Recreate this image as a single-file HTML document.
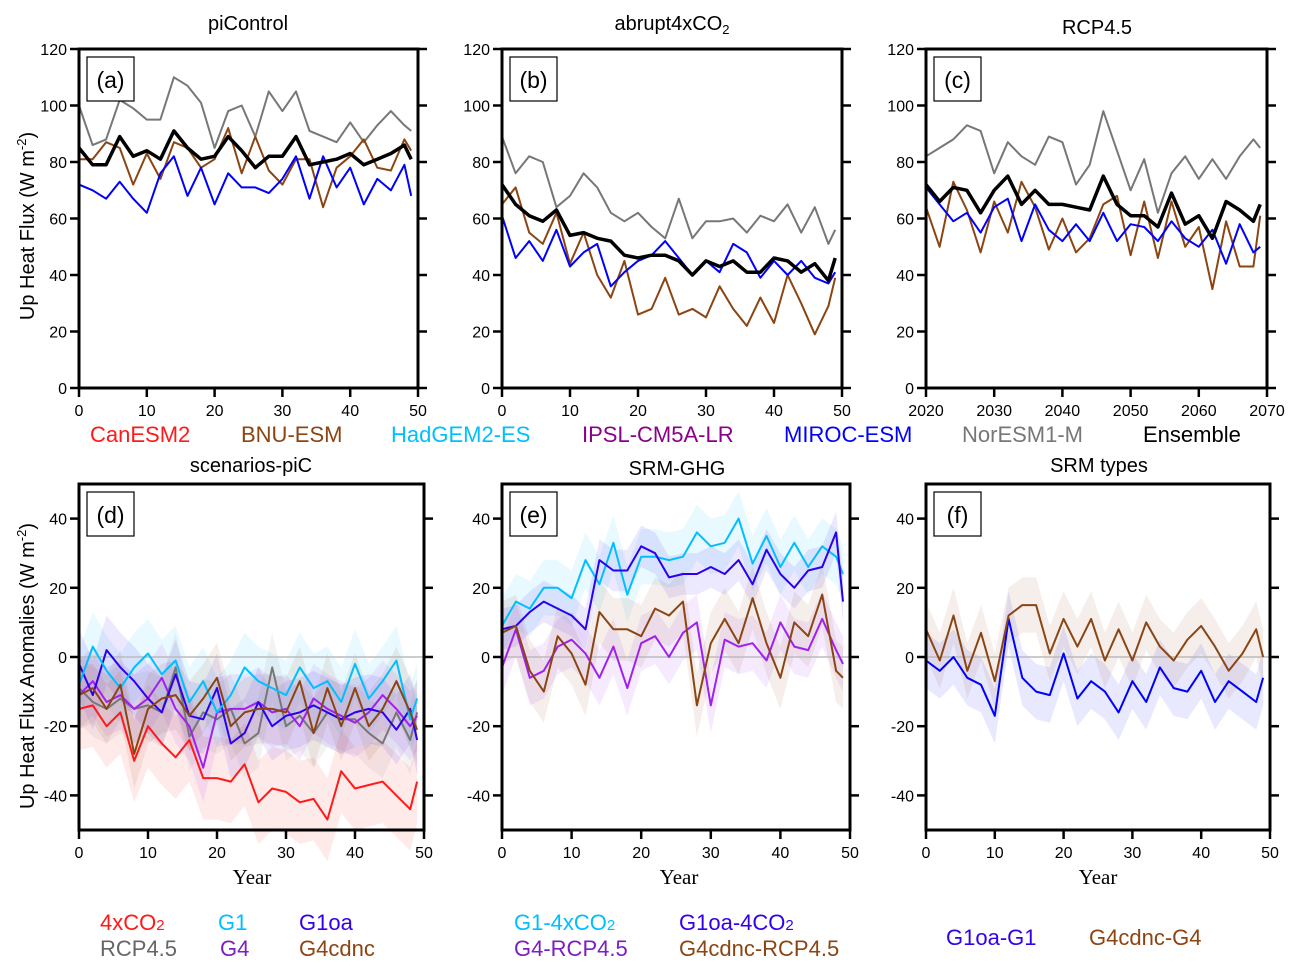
<!DOCTYPE html>
<html><head><meta charset="utf-8"><style>
html,body{margin:0;padding:0;background:#fff}
svg{display:block;font-family:"Liberation Sans",sans-serif}
.tk{font-size:16px;fill:#000}
.ttl{font-size:20px;fill:#000}
.lg{font-size:22px}
.yr{font-family:"Liberation Serif",serif;font-size:21px}
</style></head><body>
<svg id="chart" width="1293" height="972" viewBox="0 0 1293 972">
<g id="g"></g>
<text class="ttl" x="248" y="30" text-anchor="middle">piControl</text>
<text class="ttl" x="672" y="30" text-anchor="middle">abrupt4xCO<tspan font-size="13" dy="4">2</tspan></text>
<text class="ttl" x="1097" y="34" text-anchor="middle">RCP4.5</text>
<text class="ttl" x="251" y="472" text-anchor="middle">scenarios-piC</text>
<text class="ttl" x="677" y="475" text-anchor="middle">SRM-GHG</text>
<text class="ttl" x="1099" y="472" text-anchor="middle">SRM types</text>
<text class="ttl" transform="translate(34,226) rotate(-90)" text-anchor="middle">Up Heat Flux (W m<tspan font-size="13" dy="-8">-2</tspan><tspan dy="8">)</tspan></text>
<text class="ttl" transform="translate(34,666) rotate(-90)" text-anchor="middle">Up Heat Flux Anomalies (W m<tspan font-size="13" dy="-8">-2</tspan><tspan dy="8">)</tspan></text>
<text class="yr" x="252" y="884" text-anchor="middle">Year</text>
<text class="yr" x="679" y="884" text-anchor="middle">Year</text>
<text class="yr" x="1098" y="884" text-anchor="middle">Year</text>
<g class="lg">
<text x="90" y="442" fill="#ff1a1a">CanESM2</text>
<text x="241" y="442" fill="#8b4513">BNU-ESM</text>
<text x="391" y="442" fill="#00bfff">HadGEM2-ES</text>
<text x="582" y="442" fill="#8b008b">IPSL-CM5A-LR</text>
<text x="784" y="442" fill="#0000ff">MIROC-ESM</text>
<text x="962" y="442" fill="#777">NorESM1-M</text>
<text x="1143" y="442" fill="#000">Ensemble</text>
</g>
<g class="lg">
<text x="100" y="930" fill="#ff1a1a">4xCO<tspan font-size="15">2</tspan></text>
<text x="218" y="930" fill="#00bfff">G1</text>
<text x="299" y="930" fill="#3300ee">G1oa</text>
<text x="100" y="956" fill="#666">RCP4.5</text>
<text x="220" y="956" fill="#7a1fc0">G4</text>
<text x="299" y="956" fill="#8b4513">G4cdnc</text>
<text x="514" y="930" fill="#00bfff">G1-4xCO<tspan font-size="15">2</tspan></text>
<text x="679" y="930" fill="#3300ee">G1oa-4CO<tspan font-size="15">2</tspan></text>
<text x="514" y="956" fill="#7a1fc0">G4-RCP4.5</text>
<text x="679" y="956" fill="#8b4513">G4cdnc-RCP4.5</text>
<text x="946" y="945" fill="#3300ee">G1oa-G1</text>
<text x="1089" y="945" fill="#8b4513">G4cdnc-G4</text>
</g>
</svg>
<script>
const years = [0,2,4,6,8,10,12,14,16,18,20,22,24,26,28,30,32,34,36,38,40,42,44,46,48,49];
const topTicks = [0,20,40,60,80,100,120];
const botTicks = [-40,-20,0,20,40];
// panel a piControl
const aGray = [100,86,88,102,99,95,95,110,107,101,85,98,100,89,105,98,105,91,89,87,94,87,93,98,93,91];
const aBrown = [81,81,87,85,72,83,74,87,85,78,81,92,76,89,77,72,81,81,64,78,82,88,78,77,88,84];
const aBlue = [72,70,67,73,67,62,76,82,68,78,65,76,71,71,69,74,82,67,82,71,78,65,74,70,79,68];
const aBlack = [85,79,79,89,82,84,81,91,85,81,82,89,84,78,82,82,89,79,80,81,83,79,81,83,86,81];
// panel b abrupt4xCO2
const bGray = [89,76,82,80,64,68,76,71,62,59,62,57,53,67,53,59,59,60,55,61,59,65,55,64,51,56];
const bBrown = [65,71,55,51,62,44,55,40,32,45,26,28,39,26,28,25,36,28,22,32,23,40,30,19,29,39];
const bBlue = [61,46,52,45,56,43,48,51,36,41,45,47,52,46,40,45,41,51,48,39,45,40,45,39,37,41];
const bBlack = [72,65,61,59,63,54,55,53,52,47,46,47,47,45,40,45,43,45,41,41,46,45,41,44,38,46];
// panel c RCP4.5
const cGray = [82,85,88,93,91,76,87,82,79,89,87,72,79,98,84,70,81,62,76,82,74,81,74,82,88,85];
const cBrown = [64,50,73,63,48,66,55,73,64,49,60,48,53,65,68,47,66,46,66,50,57,35,59,43,43,61];
const cBlue = [71,65,59,62,55,64,67,52,65,56,52,58,52,62,52,58,57,52,59,53,50,56,44,58,48,50];
const cBlack = [72,66,71,70,62,70,75,65,70,65,65,64,63,75,65,61,61,57,69,58,61,53,66,63,59,65];
// panel d scenarios-piC
const d4x = [-15,-14,-20,-16,-30,-20,-25,-29,-24,-35,-35,-36,-31,-42,-38,-39,-42,-41,-47,-33,-38,-37,-36,-40,-44,-36];
const dG1 = [-8,3,-4,-9,-3,1,-5,-1,-13,-7,-16,-11,-3,-7,-9,-11,-3,-9,-7,-13,-2,-12,-7,-1,-18,-12];
const dG1oa = [-2,-11,2,-3,-7,-12,-16,-5,-17,-18,-9,-25,-22,-13,-20,-17,-16,-14,-16,-18,-16,-15,-16,-21,-15,-24];
const dG4 = [-11,-7,-13,-11,-15,-12,-6,-15,-20,-32,-16,-15,-15,-13,-16,-15,-20,-12,-15,-17,-19,-16,-11,-15,-20,-17];
const dRcp = [-9,-13,-15,-12,-15,-14,-16,-3,-23,-16,-18,-15,-25,-22,-3,-20,-17,-22,-16,-18,-18,-22,-25,-16,-24,-16];
const dG4c = [-11,-9,-15,-8,-28,-15,-12,-11,-17,-12,-6,-20,-16,-15,-15,-16,-7,-22,-9,-20,-9,-20,-15,-7,-16,-21];
const dSpread = [12,10,10,10,10,10];
// panel e SRM-GHG
const eG1 = [9,16,14,20,20,17,28,21,33,18,29,29,28,29,36,32,33,40,27,35,26,33,26,32,29,24];
const eG1oa = [8,9,13,16,14,12,8,28,25,25,32,30,23,24,24,26,24,28,21,31,24,20,25,26,36,16];
const eG4 = [-3,8,-6,-4,3,5,1,-6,3,-9,4,6,0,7,10,-14,5,3,4,-1,10,3,2,11,2,-2];
const eG4c = [7,9,-4,-10,6,1,-8,13,8,8,6,14,12,16,-14,4,11,4,17,4,-6,10,6,18,-4,-6];
const eSpread = [8,6,8,9];
// panel f SRM types
const fG1oa = [-1,-4,0,-6,-8,-17,11,-6,-10,-11,1,-12,-7,-10,-16,-7,-13,-3,-9,-10,-4,-13,-7,-10,-13,-6];
const fG4c = [8,-1,12,-4,7,-7,12,15,15,1,11,3,11,-1,8,-1,10,3,-1,5,9,3,-4,1,8,0];
const fSpread = [8,8];

const NS='http://www.w3.org/2000/svg';
const root=document.getElementById('g');
function mk(tag,attrs,parent){const e=document.createElementNS(NS,tag);for(const k in attrs)e.setAttribute(k,attrs[k]);(parent||root).appendChild(e);return e;}

function panel(id,x0,x1,y0,y1,ymin,ymax,yticks,xlabels,letter,series,bands,zeroLine){
  const g=mk('g',{});
  
  
  const sx=v=>x0+v/50*(x1-x0);
  const sy=v=>y1-(v-ymin)/(ymax-ymin)*(y1-y0);
  bands.forEach(b=>{
    let pts=[];
    years.forEach((yv,i)=>pts.push(sx(yv)+','+sy(b.vals[i]+b.sp)));
    for(let i=years.length-1;i>=0;i--)pts.push(sx(years[i])+','+sy(b.vals[i]-b.sp));
    const p=mk('polygon',{points:pts.join(' '),fill:b.color,'fill-opacity':0.09,stroke:'none'},g);
    
    
  });
  if(zeroLine){const z=mk('line',{x1:x0,x2:x1,y1:sy(0),y2:sy(0),stroke:'#bbb','stroke-width':1.5},g);
    
    }
  series.forEach(s=>{
    const d=years.map((yv,i)=>(i?'L':'M')+sx(yv).toFixed(1)+' '+sy(s.vals[i]).toFixed(1)).join(' ');
    const p=mk('path',{d:d,fill:'none',stroke:s.color,'stroke-width':s.w||2,'stroke-linejoin':'round'},g);
    
    
  });
  const r=mk('rect',{x:x0,y:y0,width:x1-x0,height:y1-y0,fill:'none',stroke:'#000','stroke-width':3},g);
  
  
  yticks.forEach(v=>{
    const yy=sy(v);
    mk('line',{x1:x0-9,x2:x0,y1:yy,y2:yy,stroke:'#000','stroke-width':2.5},g);
    mk('line',{x1:x1,x2:x1+9,y1:yy,y2:yy,stroke:'#000','stroke-width':2.5},g);
    const t=mk('text',{x:x0-12,y:yy+6,'text-anchor':'end',class:'tk'},g);
    t.textContent=String(v);
    
    
  });
  xlabels.forEach((lab,i)=>{
    const xx=sx(i*10);
    mk('line',{x1:xx,x2:xx,y1:y1,y2:y1+9,stroke:'#000','stroke-width':2.5},g);
    const t=mk('text',{x:xx,y:y1+28,'text-anchor':'middle',class:'tk'},g);
    t.textContent=lab;
    
    
  });
  const bx=mk('rect',{x:x0+8,y:y0+8,width:47,height:44,fill:'#fff',stroke:'#000','stroke-width':1.2},g);
  
  
  const lt=mk('text',{x:x0+31.5,y:y0+39,'text-anchor':'middle','font-size':'23'},g);
  lt.textContent='('+letter+')';
  
  
}
const xl=['0','10','20','30','40','50'];
const xlc=['2020','2030','2040','2050','2060','2070'];
const BR='#8b4513',BL='#0000ff',GR='#777',CY='#00bfff',PU='#a020f0',RD='#ff1a1a',VB='#2a00f0';
panel('a',79,418,49,388,0,120,topTicks,xl,'a',[
 {name:'noresm',vals:aGray,color:GR},{name:'bnu',vals:aBrown,color:BR},{name:'miroc',vals:aBlue,color:BL},{name:'ensemble',vals:aBlack,color:'#000',w:3.5}],[],false);
panel('b',502,842,49,388,0,120,topTicks,xl,'b',[
 {name:'noresm',vals:bGray,color:GR},{name:'bnu',vals:bBrown,color:BR},{name:'miroc',vals:bBlue,color:BL},{name:'ensemble',vals:bBlack,color:'#000',w:3.5}],[],false);
panel('c',926,1267,49,388,0,120,topTicks,xlc,'c',[
 {name:'noresm',vals:cGray,color:GR},{name:'bnu',vals:cBrown,color:BR},{name:'miroc',vals:cBlue,color:BL},{name:'ensemble',vals:cBlack,color:'#000',w:3.5}],[],false);
panel('d',79,424,484,830,-50,50,botTicks,xl,'d',[
 {name:'4xco2',vals:d4x,color:RD},{name:'rcp45',vals:dRcp,color:GR},{name:'g4',vals:dG4,color:PU},{name:'g1oa',vals:dG1oa,color:VB},{name:'g1',vals:dG1,color:CY},{name:'g4cdnc',vals:dG4c,color:BR}],
 [{name:'4xco2',vals:d4x,color:RD,sp:dSpread[0]},{name:'g1',vals:dG1,color:CY,sp:dSpread[1]},{name:'g1oa',vals:dG1oa,color:VB,sp:dSpread[2]},{name:'g4',vals:dG4,color:PU,sp:dSpread[3]},{name:'rcp45',vals:dRcp,color:GR,sp:dSpread[4]},{name:'g4cdnc',vals:dG4c,color:BR,sp:dSpread[5]}],true);
panel('e',502,850,484,830,-50,50,botTicks,xl,'e',[
 {name:'g1-4xco2',vals:eG1,color:CY},{name:'g1oa-4co2',vals:eG1oa,color:VB},{name:'g4-rcp45',vals:eG4,color:PU},{name:'g4cdnc-rcp45',vals:eG4c,color:BR}],
 [{name:'g1-4xco2',vals:eG1,color:CY,sp:eSpread[0]},{name:'g1oa-4co2',vals:eG1oa,color:VB,sp:eSpread[1]},{name:'g4-rcp45',vals:eG4,color:PU,sp:eSpread[2]},{name:'g4cdnc-rcp45',vals:eG4c,color:BR,sp:eSpread[3]}],true);
panel('f',926,1270,484,830,-50,50,botTicks,xl,'f',[
 {name:'g1oa-g1',vals:fG1oa,color:BL},{name:'g4cdnc-g4',vals:fG4c,color:BR}],
 [{name:'g1oa-g1',vals:fG1oa,color:BL,sp:fSpread[0]},{name:'g4cdnc-g4',vals:fG4c,color:BR,sp:fSpread[1]}],true);
</script>
</body></html>
